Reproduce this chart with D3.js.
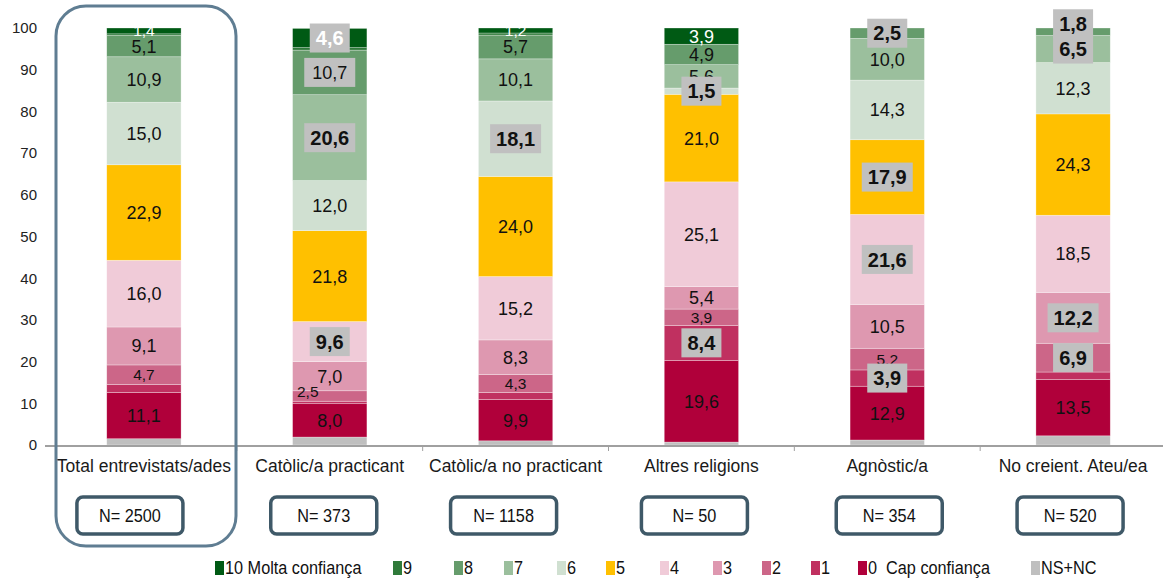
<!DOCTYPE html>
<html>
<head>
<meta charset="utf-8">
<script src="https://cdn.jsdelivr.net/npm/d3@7"></script>
<style>
  body { margin: 0; background: #fff; }
  text { font-family: 'Liberation Sans', Arial, sans-serif; }
</style>
</head>
<body>
<svg width="1163" height="581"></svg>
<script>
// categories and N
var cats = ["Total entrevistats/ades", "Catòlic/a practicant", "Catòlic/a no practicant", "Altres religions", "Agnòstic/a", "No creient. Ateu/ea"];
var nLabels = ["N= 2500", "N= 373", "N= 1158", "N= 50", "N= 354", "N= 520"];

// series values, bottom to top
var nsnc = [1.5, 1.9, 1.0, 0.7, 1.2, 2.2];
var s0  = [11.1, 8.0, 9.9, 19.6, 12.9, 13.5];
var s1  = [1.9, 0.6, 1.7, 8.4, 3.9, 1.8];
var s2  = [4.7, 2.5, 4.3, 3.9, 5.2, 6.9];
var s3  = [9.1, 7.0, 8.3, 5.4, 10.5, 12.2];
var s4  = [16.0, 9.6, 15.2, 25.1, 21.6, 18.5];
var s5  = [22.9, 21.8, 24.0, 21.0, 17.9, 24.3];
var s6  = [15.0, 12.0, 18.1, 1.5, 14.3, 12.3];
var s7  = [10.9, 20.6, 10.1, 5.6, 10.0, 6.5];
var s8  = [5.1, 10.7, 5.7, 4.9, 2.5, 1.8];
var s9  = [0.4, 0.6, 0.5, 0, 0, 0];
var s10 = [1.4, 4.6, 1.2, 3.9, 0, 0];

var yTicks = [0, 10, 20, 30, 40, 50, 60, 70, 80, 90, 100];

// series meta (stack order)
var keys = ["nsnc", "s0", "s1", "s2", "s3", "s4", "s5", "s6", "s7", "s8", "s9", "s10"];
var seriesVals = {nsnc: nsnc, s0: s0, s1: s1, s2: s2, s3: s3, s4: s4, s5: s5, s6: s6, s7: s7, s8: s8, s9: s9, s10: s10};
var colors = {s10: "#005a14", s9: "#2f7a3a", s8: "#669c6c", s7: "#9bbf9d", s6: "#d0e0d1", s5: "#ffc000",
              s4: "#f0cbd8", s3: "#de98b0", s2: "#cc6688", s1: "#c03060", s0: "#b0003a", nsnc: "#bfbfbf"};

// labels: which are hidden, boxed (significant), small, white
var hidden = [[0,"s1"],[1,"s1"],[2,"s1"],[5,"s1"]];
var boxedBold = [[1,"s10"],[1,"s7"],[1,"s4"],[2,"s6"],[3,"s6"],[3,"s1"],[4,"s8"],[4,"s5"],[4,"s4"],[4,"s1"],[5,"s8"],[5,"s7"],[5,"s3"],[5,"s2"]];
var boxedPlain = [[1,"s8"]];
var small = [[0,"s2"],[1,"s2"],[2,"s2"],[3,"s2"],[4,"s2"],[0,"s10"],[2,"s10"]];

// small horizontal shifts of the N boxes, as in the original
var nBoxDx = [-14, -6, -12, -7, 2, -3];

function has(list, i, k) {
    return list.some(function(p){ return p[0] == i && p[1] == k; });
}

var svg = d3.select('svg');

var x = d3.scaleBand().domain(cats).range([51, 1166]).paddingInner(0.6).paddingOuter(0.3);
var y = d3.scaleLinear().domain([0, 100]).range([445, 28]);

// build table for stack
var table = cats.map(function(c, i){
    var row = {cat: c, idx: i};
    keys.forEach(function(k){ row[k] = seriesVals[k][i]; });
    return row;
});
var stacked = d3.stack().keys(keys)(table);

// y axis (labels only, the frame hides the line)
var yAxis = svg.append('g')
    .attr('transform', 'translate(48,0)')
    .call(d3.axisLeft(y).tickValues(yTicks).tickSize(0).tickPadding(11).tickFormat(d3.format('d')));
yAxis.select('.domain').remove();
yAxis.selectAll('.tick text').attr('font-size', 15).attr('fill', '#222')
    .attr('font-family', "'Liberation Sans', Arial, sans-serif");

// bars
svg.append('g').selectAll('g')
    .data(stacked)
    .enter()
    .append('g')
    .attr('fill', function(d){ return colors[d.key]; })
    .selectAll('rect')
    .data(function(d){ return d; })
    .enter()
    .append('rect')
    .attr('x', function(d){ return x(d.data.cat); })
    .attr('width', x.bandwidth())
    .attr('y', function(d){ return y(d[1]); })
    .attr('height', function(d){ return y(d[0]) - y(d[1]); })
    .attr('stroke', 'rgba(255,255,255,0.5)')
    .attr('stroke-width', 0.6);

// x axis line + ticks between categories
svg.append('line')
    .attr('x1', 45).attr('x2', 1163).attr('y1', y(0) + 1).attr('y2', y(0) + 1)
    .attr('stroke', '#a0a0a0').attr('stroke-width', 2);
var step = x.step();
svg.append('g').selectAll('line')
    .data(cats.slice(0, cats.length - 1))
    .enter()
    .append('line')
    .attr('x1', function(d){ return x(d) + x.bandwidth() / 2 + step / 2; })
    .attr('x2', function(d){ return x(d) + x.bandwidth() / 2 + step / 2; })
    .attr('y1', y(0) + 1).attr('y2', y(0) + 6)
    .attr('stroke', '#a0a0a0').attr('stroke-width', 1);

// category labels
svg.append('g').selectAll('text')
    .data(cats)
    .enter()
    .append('text')
    .text(function(d){ return d; })
    .attr('x', function(d){ return x(d) + x.bandwidth() / 2; })
    .attr('y', 472)
    .attr('text-anchor', 'middle')
    .attr('font-size', 17.5)
    .attr('fill', '#1a1a1a');

// value labels
var labelData = [];
stacked.forEach(function(s){
    s.forEach(function(d, i){
        var v = d.data[s.key];
        if (s.key == 'nsnc' || s.key == 's9' || v == 0 || has(hidden, i, s.key)) return;
        var lab = {
            key: s.key, i: i, v: v,
            cx: x(d.data.cat) + x.bandwidth() / 2,
            cy: (y(d[0]) + y(d[1])) / 2,
            bold: has(boxedBold, i, s.key),
            box: has(boxedBold, i, s.key) || has(boxedPlain, i, s.key),
            small: has(small, i, s.key),
            white: s.key == 's10'
        };
        // a few nudges as in the original
        if (i == 1 && s.key == 's2') { lab.cx -= 22; lab.cy -= 5; }
        if (i == 5 && s.key == 's8') { lab.cy -= 8; }
        labelData.push(lab);
    });
});
// plain labels first, boxed on top
labelData.sort(function(a, b){ return (a.box ? 1 : 0) - (b.box ? 1 : 0); });

var fmt = function(v){ return d3.format('.1f')(v).replace('.', ','); };

var labG = svg.append('g');
labelData.forEach(function(d){
    var fs = d.bold ? 20 : (d.small ? 15.5 : 18);
    if (d.box) {
        var w = fmt(d.v).length >= 4 ? 51 : 40;
        labG.append('rect')
            .attr('x', d.cx - w / 2).attr('y', d.cy - 14.5)
            .attr('width', w).attr('height', 29)
            .attr('fill', '#c0c0c0');
    }
    labG.append('text')
        .text(fmt(d.v))
        .attr('x', d.cx)
        .attr('y', d.cy)
        .attr('dy', '0.36em')
        .attr('text-anchor', 'middle')
        .attr('font-size', fs)
        .attr('font-weight', d.bold ? 'bold' : 'normal')
        .attr('fill', d.white ? '#fff' : '#111');
});

// N boxes
var nG = svg.append('g').selectAll('g')
    .data(cats)
    .enter()
    .append('g')
    .attr('transform', function(d, i){ return 'translate(' + (x(d) + x.bandwidth() / 2 + nBoxDx[i]) + ',515)'; });
nG.append('rect')
    .attr('x', -53).attr('y', -18).attr('width', 106).attr('height', 37)
    .attr('rx', 6)
    .attr('fill', '#fff')
    .attr('stroke', '#3f5968')
    .attr('stroke-width', 3.5);
nG.append('text')
    .text(function(d, i){ return nLabels[i]; })
    .attr('transform', 'translate(0,1) scale(0.93,1)')
    .attr('dy', '0.36em')
    .attr('text-anchor', 'middle')
    .attr('font-size', 17.5)
    .attr('fill', '#111');

// highlight frame round the total column
svg.append('rect')
    .attr('x', 56).attr('y', 6)
    .attr('width', 180).attr('height', 540)
    .attr('rx', 30)
    .attr('fill', 'none')
    .attr('stroke', '#5f7d92')
    .attr('stroke-width', 3);

// legend
var legendKeys = ["s10", "s9", "s8", "s7", "s6", "s5", "s4", "s3", "s2", "s1", "s0", "nsnc"];
var legendNames = ["10 Molta confiança", "9", "8", "7", "6", "5", "4", "3", "2", "1", "0  Cap confiança", "NS+NC"];
var legendX = [215, 393, 454, 504, 557, 606, 660, 713, 762, 811, 858, 1031];

var lg = svg.append('g').selectAll('g')
    .data(legendKeys)
    .enter()
    .append('g')
    .attr('transform', function(d, i){ return 'translate(' + legendX[i] + ',568)'; });
lg.append('rect')
    .attr('x', 0).attr('y', -7).attr('width', 9).attr('height', 14)
    .attr('fill', function(d){ return colors[d]; });
lg.append('text')
    .text(function(d, i){ return legendNames[i]; })
    .attr('transform', 'translate(10,0) scale(0.93,1)')
    .attr('dy', '0.36em')
    .attr('font-size', 17.5)
    .style('white-space', 'pre')
    .attr('fill', '#111');
</script>
</body>
</html>
